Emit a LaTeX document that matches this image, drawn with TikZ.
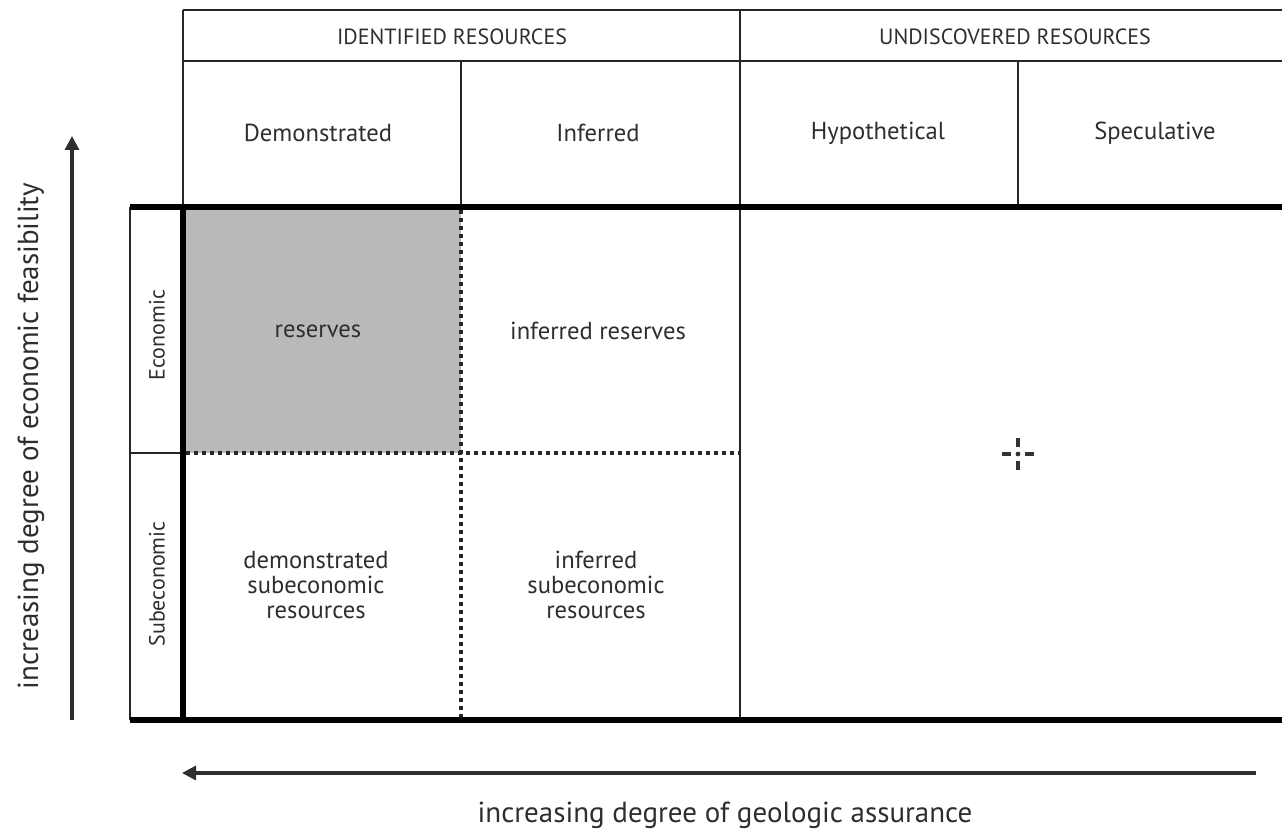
\documentclass[tikz,border=0pt]{standalone}
\usepackage{fontspec}
\setmainfont{PT Sans}
\usetikzlibrary{arrows.meta}
\definecolor{txt}{HTML}{2E2E2E}
\definecolor{cellgray}{HTML}{B9B9B9}
\tikzset{
  thin line/.style={line width=1.4pt, black!85},
  thick line/.style={line width=2.6pt, black},
  dotline/.style={line width=1.7pt, black!85, dash pattern=on 1.8pt off 2.2pt},
  lbl/.style={text=txt, font=\fontsize{12.3}{12.5}\selectfont, align=center, inner sep=0pt},
  hdr/.style={text=txt, font=\fontsize{11}{13}\selectfont, inner sep=0pt},
  side/.style={text=txt, font=\fontsize{11}{13}\selectfont, inner sep=0pt, rotate=90},
  axis/.style={text=txt, font=\fontsize{14.5}{17}\selectfont, inner sep=0pt},
  axarrow/.style={line width=1.6pt, draw=txt, -{Triangle[length=7pt,width=7pt]}},
  crossdot/.style={line width=2pt, black!80}
}
\begin{document}
\begin{tikzpicture}[x=0.5pt,y=-0.5pt]
\useasboundingbox (0,0) rectangle (1282,833);
% shaded reserves cell
\fill[cellgray] (183,207) rectangle (461,453);
% header lines
\draw[thin line] (183,10) -- (1290,10);
\draw[thin line] (183,61) -- (1290,61);
\draw[thin line] (183,10) -- (183,207);
\draw[thin line] (461,61) -- (461,207);
\draw[thin line] (740,10) -- (740,720);
\draw[thin line] (1018,61) -- (1018,207);
% side label box
\draw[thin line] (130,207) -- (130,720);
\draw[thin line] (130,453) -- (183,453);
% dotted internal dividers
\draw[dotline] (461,210) -- (461,717);
\draw[dotline] (186,453) -- (740,453);
% main thick frame
\draw[thick line] (130,207) -- (1290,207);
\draw[thick line] (130,720) -- (1290,720);
\draw[thick line] (183,207) -- (183,720);
% cross marker
\coordinate (cc) at (1018,454);
\draw[crossdot] ([xshift=-8]cc) -- ([xshift=-3.5]cc);
\draw[crossdot] ([xshift=3.5]cc) -- ([xshift=8]cc);
\draw[crossdot] ([yshift=-8]cc) -- ([yshift=-3.5]cc);
\draw[crossdot] ([yshift=3.5]cc) -- ([yshift=8]cc);
\fill[black!80] (cc) circle (1.2pt);
% header texts
\node[hdr] (idr) at (452,37) {IDENTIFIED RESOURCES};
\node[hdr] (udr) at (1015,37) {UNDISCOVERED RESOURCES};
\node[lbl] (dem) at (318,133) {Demonstrated};
\node[lbl] (inf) at (598,133) {Inferred};
\node[lbl] (hyp) at (878,133) {Hypothetical};
\node[lbl] (spe) at (1155,133) {Speculative};
% cell texts
\node[lbl] (res) at (318,331) {reserves};
\node[lbl] (ires) at (598,331) {inferred reserves};
\node[lbl] (dsr) at (316,585) {demonstrated\\subeconomic\\resources};
\node[lbl] (isr) at (596,585) {inferred\\subeconomic\\resources};
% side labels
\node[side] (eco) at (157,335) {Economic};
\node[side] (sub) at (157,584) {Subeconomic};
% axes
\coordinate (va) at (72,720);
\coordinate (vb) at (72,136);
\draw[axarrow] (va) -- (vb);
\coordinate (ha) at (1256,773);
\coordinate (hb) at (182,773);
\draw[axarrow] (ha) -- (hb);
\node[axis, rotate=90] (yax) at (31,436) {increasing degree of economic feasibility};
\node[axis] (xax) at (725,815) {increasing degree of geologic assurance};
\end{tikzpicture}
\end{document}
